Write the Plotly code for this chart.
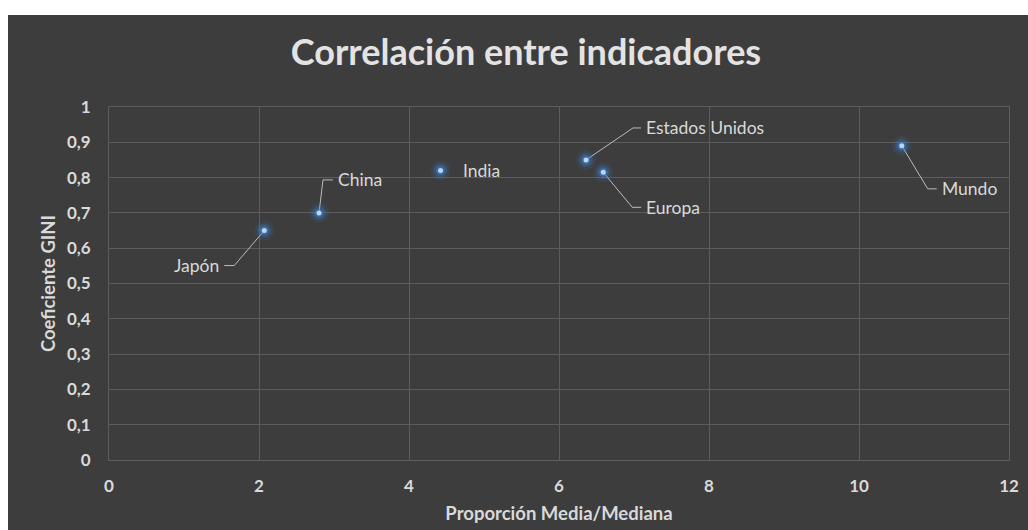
import plotly.graph_objects as go

# Datos: proporción media/mediana frente al coeficiente GINI
paises = ["Japón", "China", "India", "Estados Unidos", "Europa", "Mundo"]
proporcion = [2.07, 2.8, 4.42, 6.36, 6.59, 10.57]
gini = [0.65, 0.70, 0.82, 0.85, 0.815, 0.89]

x_ticks = [0, 2, 4, 6, 8, 10, 12]
y_ticks = [0, 0.1, 0.2, 0.3, 0.4, 0.5, 0.6, 0.7, 0.8, 0.9, 1]
y_ticktext = ["0", "0,1", "0,2", "0,3", "0,4", "0,5", "0,6", "0,7", "0,8", "0,9", "1"]

# Posición de cada etiqueta respecto a su punto, en píxeles:
# (codo dx, codo dy hacia abajo, tramo horizontal, lado del texto)
etiquetas = {
    "Japón": (-30, 35, -10, "right"),
    "China": (4, -33, 10, "left"),
    "India": (None, 0, 20, "left"),
    "Estados Unidos": (47, -32, 8, "left"),
    "Europa": (29, 35, 9, "left"),
    "Mundo": (26, 43, 9, "left"),
}

W, H = 1028, 530
ML, MR, MT, MB = 109, 19, 107, 70
plot_w = W - ML - MR
plot_h = H - MT - MB
x_rng = (0, 12)
y_rng = (0, 1)
px_x = plot_w / (x_rng[1] - x_rng[0])
px_y = plot_h / (y_rng[1] - y_rng[0])

BG = "#3d3d3d"
GRID = "#5d5d5d"
TXT = "#d9d9d9"
FONT = "Lato"

fig = go.Figure()

# Líneas guía de las etiquetas
annotations = []
for nombre, xv, yv in zip(paises, proporcion, gini):
    dx, dy, tail, lado = etiquetas[nombre]
    if dx is None:
        tx, ty = xv + tail / px_x, yv - dy / px_y
        shift = 0
    else:
        ex, ey = xv + dx / px_x, yv - dy / px_y
        tx, ty = ex + tail / px_x, ey
        fig.add_trace(go.Scatter(
            x=[xv, ex, tx], y=[yv, ey, ty], mode="lines",
            line=dict(color="#bcbcbc", width=1), hoverinfo="skip",
            showlegend=False,
        ))
        shift = 3 if lado == "left" else -3
    annotations.append(dict(
        x=tx, y=ty, xref="x", yref="y", text=nombre, showarrow=False,
        xanchor=lado, yanchor="middle", xshift=shift,
        font=dict(family=FONT, size=17.5, color=TXT),
    ))

# Halo azul alrededor de los puntos
for size, op in [(20, 0.10), (14, 0.22), (9, 0.45)]:
    fig.add_trace(go.Scatter(
        x=proporcion, y=gini, mode="markers",
        marker=dict(size=size, color="#3f86e0", opacity=op, line=dict(width=0)),
        hoverinfo="skip", showlegend=False,
    ))
fig.add_trace(go.Scatter(
    x=proporcion, y=gini, mode="markers", text=paises,
    marker=dict(size=5, color="#b9d6f7", line=dict(width=0)),
    showlegend=False,
))

# Fondo oscuro del gráfico con margen blanco arriba e izquierda
fig.add_shape(
    type="rect", xref="paper", yref="paper", layer="below",
    x0=(8 - ML) / plot_w, x1=(W - ML) / plot_w,
    y0=-MB / plot_h, y1=(H - MB - 15) / plot_h,
    fillcolor=BG, line=dict(width=0),
)

fig.update_layout(
    width=W, height=H,
    margin=dict(l=ML, r=MR, t=MT, b=MB, autoexpand=False),
    paper_bgcolor="white", plot_bgcolor=BG,
    title=dict(
        text="<b>Correlación entre indicadores</b>",
        x=(526 - ML) / plot_w, xref="paper", xanchor="center",
        y=1 - 52 / H, yref="container", yanchor="middle",
        font=dict(family=FONT, size=36, color="#e3e3e3"),
    ),
    annotations=annotations,
    font=dict(family=FONT, color=TXT),
)

fig.update_xaxes(
    range=x_rng, tickvals=x_ticks, showgrid=True, gridcolor=GRID, gridwidth=1,
    zeroline=False, showline=True, linecolor=GRID, mirror=True,
    ticks="", ticklabelstandoff=11,
    tickfont=dict(family=FONT, size=17, color=TXT, weight="bold"),
    title=dict(text="<b>Proporción Media/Mediana</b>", standoff=11,
               font=dict(family=FONT, size=18.5, color=TXT)),
)
fig.update_yaxes(
    range=y_rng, tickvals=y_ticks, ticktext=y_ticktext, showgrid=True,
    gridcolor=GRID, gridwidth=1, zeroline=False, showline=True,
    linecolor=GRID, mirror=True, ticks="", ticklabelstandoff=14,
    tickfont=dict(family=FONT, size=17, color=TXT, weight="bold"),
    title=dict(text="<b>Coeficiente GINI</b>", standoff=6,
               font=dict(family=FONT, size=18.5, color=TXT)),
)

fig.write_html("out.html")
